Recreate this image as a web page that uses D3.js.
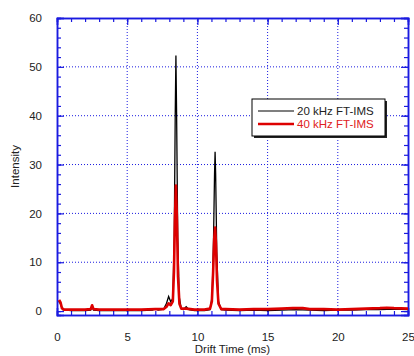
<!DOCTYPE html>
<html>
<head>
<meta charset="utf-8">
<script src="https://cdn.jsdelivr.net/npm/d3@7"></script>
<style>
  body { margin: 0; background: #fff; }
  svg { display: block; font-family: "Liberation Sans", Arial, sans-serif; }
</style>
</head>
<body>
<div id="chart"></div>
<script>
// drift time (ms), intensity
const ft20 = [
  [0.15, 2.0], [0.25, 1.4], [0.4, 0.3], [1, 0.1], [2, 0.1], [2.4, 0.2], [2.5, 0.9], [2.6, 0.2],
  [3, 0.1], [4, 0.1], [5, 0.1], [6, 0.1], [6.8, 0.2], [7.0, 0.5], [7.2, 0.2], [7.6, 0.4],
  [7.8, 1.6], [7.95, 3.0], [8.1, 1.9], [8.25, 2.6], [8.35, 15], [8.42, 40], [8.47, 52.3],
  [8.52, 40], [8.6, 15], [8.7, 3], [8.85, 0.5], [9.0, 0.3], [9.2, 0.9], [9.4, 0.3],
  [9.8, 0.1], [10.5, 0.1], [10.9, 0.3], [11.05, 3], [11.15, 15], [11.22, 28], [11.26, 32.6],
  [11.3, 28], [11.38, 12], [11.5, 2], [11.7, 0.3], [12, 0.2], [13, 0.1], [14, 0.2],
  [15, 0.1], [16, 0.2], [17, 0.3], [18, 0.2], [19, 0.1], [20, 0.2], [21, 0.2], [22, 0.3],
  [23, 0.3], [24, 0.4], [25, 0.3]
];
const ft40 = [
  [0.15, 2.3], [0.25, 1.8], [0.35, 0.6], [0.5, 0.3], [1, 0.3], [2, 0.3], [2.4, 0.4],
  [2.5, 1.2], [2.6, 0.4], [3, 0.3], [4, 0.3], [5, 0.3], [6, 0.3], [7, 0.4], [7.6, 0.4],
  [7.8, 0.9], [7.95, 1.6], [8.1, 1.2], [8.25, 2.0], [8.33, 8], [8.4, 19], [8.47, 25.7],
  [8.54, 19], [8.62, 7], [8.72, 1.5], [8.85, 0.5], [9.2, 0.5], [9.8, 0.3], [10.5, 0.3],
  [10.9, 0.5], [11.03, 2], [11.12, 8], [11.2, 15], [11.26, 17.1], [11.32, 14],
  [11.4, 6], [11.5, 1.5], [11.7, 0.4], [12, 0.4], [13, 0.3], [14, 0.4], [15, 0.4],
  [16, 0.5], [16.8, 0.6], [17.5, 0.6], [18, 0.4], [19, 0.4], [20, 0.3], [21, 0.4],
  [22, 0.5], [23, 0.6], [23.5, 0.7], [24, 0.6], [25, 0.5]
];
const xTicks = [0, 5, 10, 15, 20, 25];
const yTicks = [0, 10, 20, 30, 40, 50, 60];
const seriesNames = ["20 kHz FT-IMS", "40 kHz FT-IMS"];

const width = 414, height = 356;
const margin = { top: 18, right: 6, bottom: 41, left: 57 };
const axisColor = "#1a1ae0";

const svg = d3.select("#chart").append("svg")
  .attr("width", width)
  .attr("height", height);

const x = d3.scaleLinear().domain([0, 25]).range([margin.left, width - margin.right]);
const y = d3.scaleLinear().domain([-0.8, 60]).range([height - margin.bottom, margin.top]);

const x0 = margin.left, x1 = width - margin.right;
const y0 = height - margin.bottom, y1 = margin.top;

// dotted grid
svg.append("g").selectAll("line")
  .data(xTicks.filter(d => d > 0 && d < 25))
  .join("line")
  .attr("x1", d => x(d)).attr("x2", d => x(d))
  .attr("y1", y0).attr("y2", y1)
  .attr("stroke", axisColor).attr("stroke-dasharray", "1,2");
svg.append("g").selectAll("line")
  .data(yTicks.filter(d => d > 0 && d < 60))
  .join("line")
  .attr("y1", d => y(d)).attr("y2", d => y(d))
  .attr("x1", x0).attr("x2", x1)
  .attr("stroke", axisColor).attr("stroke-dasharray", "1,2");

// axes with inward ticks on all four sides
const minorX = d3.range(0, 26, 1);
const minorY = d3.range(0, 61, 2);
const tickFmt = () => "";

svg.append("g").attr("transform", `translate(0,${y0})`)
  .call(d3.axisBottom(x).tickValues(minorX).tickSize(-4).tickFormat(tickFmt));
svg.append("g").attr("transform", `translate(0,${y0})`)
  .call(d3.axisBottom(x).tickValues(xTicks).tickSize(-7).tickPadding(18));
svg.append("g").attr("transform", `translate(0,${y1})`)
  .call(d3.axisTop(x).tickValues(minorX).tickSize(-4).tickFormat(tickFmt));
svg.append("g").attr("transform", `translate(0,${y1})`)
  .call(d3.axisTop(x).tickValues(xTicks).tickSize(-7).tickFormat(tickFmt));
svg.append("g").attr("transform", `translate(${x0},0)`)
  .call(d3.axisLeft(y).tickValues(minorY).tickSize(-4).tickFormat(tickFmt));
svg.append("g").attr("transform", `translate(${x0},0)`)
  .call(d3.axisLeft(y).tickValues(yTicks).tickSize(-7).tickPadding(15));
svg.append("g").attr("transform", `translate(${x1},0)`)
  .call(d3.axisRight(y).tickValues(minorY).tickSize(-4).tickFormat(tickFmt));
svg.append("g").attr("transform", `translate(${x1},0)`)
  .call(d3.axisRight(y).tickValues(yTicks).tickSize(-7).tickFormat(tickFmt));

svg.selectAll(".domain").attr("stroke", axisColor).attr("stroke-width", 1.5);
svg.selectAll(".tick line").attr("stroke", axisColor).attr("stroke-width", 1.2);
svg.selectAll(".tick text").attr("fill", "#222").style("font-size", "11.5px");

// data lines
const line = d3.line().x(d => x(d[0])).y(d => y(d[1]));
svg.append("path").datum(ft20)
  .attr("d", line).attr("fill", "none")
  .attr("stroke", "#000").attr("stroke-width", 1.3);
svg.append("path").datum(ft40)
  .attr("d", line).attr("fill", "none")
  .attr("stroke", "#dd0000").attr("stroke-width", 2.6)
  .attr("stroke-linejoin", "round");

// legend
const lg = svg.append("g").attr("transform", "translate(252,99)");
lg.append("rect").attr("x", 2).attr("y", 2).attr("width", 133).attr("height", 37).attr("fill", "#222");
lg.append("rect").attr("width", 133).attr("height", 37).attr("fill", "#fff").attr("stroke", "#000");
const colors = ["#000", "#dd0000"];
const widths = [1.2, 2.6];
seriesNames.forEach((name, i) => {
  const yy = 12 + i * 13;
  lg.append("line").attr("x1", 6).attr("x2", 42).attr("y1", yy).attr("y2", yy)
    .attr("stroke", colors[i]).attr("stroke-width", widths[i]);
  lg.append("text").attr("x", 45).attr("y", yy + 4)
    .attr("fill", i ? "#e02020" : "#222").style("font-size", "11.5px").text(name);
});

// axis titles
svg.append("text").attr("x", (x0 + x1) / 2).attr("y", 353)
  .attr("text-anchor", "middle").attr("fill", "#222").style("font-size", "11.5px")
  .text("Drift Time (ms)");
svg.append("text").attr("transform", `translate(19,${(y0 + y1) / 2}) rotate(-90)`)
  .attr("text-anchor", "middle").attr("fill", "#222").style("font-size", "11.5px")
  .text("Intensity");
</script>
</body>
</html>
